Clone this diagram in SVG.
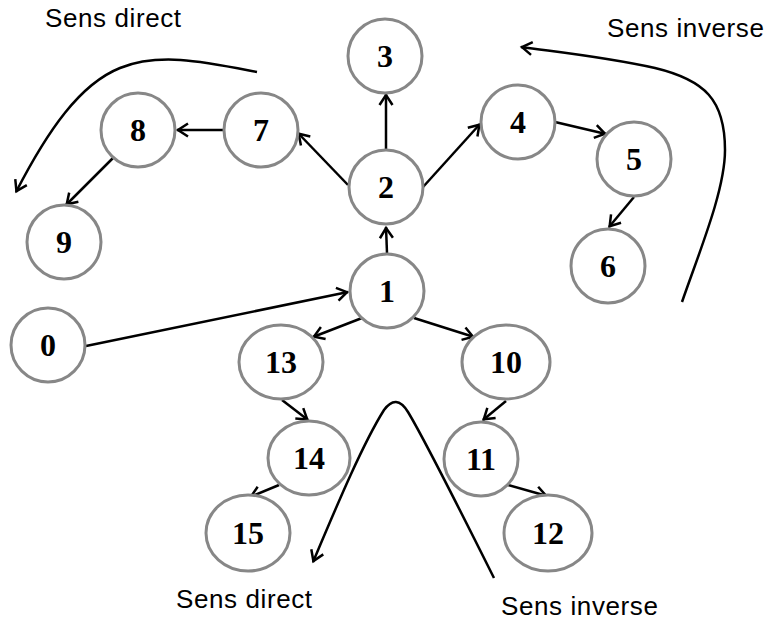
<svg xmlns="http://www.w3.org/2000/svg" width="769" height="623" viewBox="0 0 769 623">
<style>
.n ellipse{fill:#fff;stroke:#878787;stroke-width:3}
.n text{font-family:"Liberation Serif",serif;font-weight:bold;font-size:32px;text-anchor:middle;fill:#000}
.c path{fill:none;stroke:#000;stroke-width:2.5}
.lbl{font-family:"Liberation Sans",Arial,sans-serif;font-size:26px;letter-spacing:0.6px;fill:#000}
</style>
<defs>
<marker id="a" markerUnits="userSpaceOnUse" markerWidth="20" markerHeight="20" refX="1" refY="0" viewBox="-12 -10 14 20" orient="auto" overflow="visible">
<path d="M-10,-6.5 L0,0 L-10,6.5" fill="none" stroke="#000" stroke-width="2.5"/>
</marker>
</defs>
<g class="c" id="connectors">
<path d="M223,130 L177,130" marker-end="url(#a)"/>
<path d="M113,158 L66,205" marker-end="url(#a)"/>
<path d="M348,185 L298,133" marker-end="url(#a)"/>
<path d="M386,150 L386,94" marker-end="url(#a)"/>
<path d="M423,187 L480,124" marker-end="url(#a)"/>
<path d="M555,122 L606,134" marker-end="url(#a)"/>
<path d="M634,197 L609,227" marker-end="url(#a)"/>
<path d="M387,253 L386,227" marker-end="url(#a)"/>
<path d="M86,346 L348,292" marker-end="url(#a)"/>
<path d="M362,318 L313,337" marker-end="url(#a)"/>
<path d="M282,400 L308,420" marker-end="url(#a)"/>
<path d="M279,485 L250,497" marker-end="url(#a)"/>
<path d="M414,318 L474,337" marker-end="url(#a)"/>
<path d="M506,401 L483,420" marker-end="url(#a)"/>
<path d="M508,485 L547,496" marker-end="url(#a)"/>
<path d="M257,72 C205,62 160,52 120,68 C80,84 48,130 16,192" marker-end="url(#a)"/>
<path d="M682,302 C700,250 725,190 725,150 C725,100 705,80 655,68 C605,57 565,53 521,47" marker-end="url(#a)"/>
<path d="M494,578 C460,510 425,440 408,412 C400,399 392,399 384,410 C362,445 335,510 313,562" marker-end="url(#a)"/>
</g>
<g class="n" id="n0"><ellipse cx="48" cy="345" rx="37" ry="37"/><text x="48" y="356">0</text></g>
<g class="n" id="n1"><ellipse cx="387" cy="291" rx="37" ry="37"/><text x="387" y="302">1</text></g>
<g class="n" id="n2"><ellipse cx="386" cy="187" rx="37" ry="37"/><text x="386" y="198">2</text></g>
<g class="n" id="n3"><ellipse cx="385" cy="56" rx="37" ry="37"/><text x="385" y="67">3</text></g>
<g class="n" id="n4"><ellipse cx="518" cy="122" rx="37" ry="37"/><text x="518" y="133">4</text></g>
<g class="n" id="n5"><ellipse cx="634" cy="159" rx="37" ry="37"/><text x="634" y="170">5</text></g>
<g class="n" id="n6"><ellipse cx="608" cy="266" rx="37" ry="37"/><text x="608" y="277">6</text></g>
<g class="n" id="n7"><ellipse cx="261" cy="130" rx="37" ry="37"/><text x="261" y="141">7</text></g>
<g class="n" id="n8"><ellipse cx="138" cy="130" rx="37" ry="37"/><text x="138" y="141">8</text></g>
<g class="n" id="n9"><ellipse cx="64" cy="242" rx="37" ry="37"/><text x="64" y="253">9</text></g>
<g class="n" id="n10"><ellipse cx="506" cy="362" rx="44" ry="37"/><text x="506" y="373">10</text></g>
<g class="n" id="n11"><ellipse cx="481" cy="459" rx="37" ry="37"/><text x="481" y="470">11</text></g>
<g class="n" id="n12"><ellipse cx="548" cy="533" rx="44" ry="38"/><text x="548" y="544">12</text></g>
<g class="n" id="n13"><ellipse cx="281" cy="362" rx="42" ry="37"/><text x="281" y="373">13</text></g>
<g class="n" id="n14"><ellipse cx="309" cy="458" rx="41" ry="37"/><text x="309" y="469">14</text></g>
<g class="n" id="n15"><ellipse cx="248" cy="533" rx="42" ry="38"/><text x="248" y="544">15</text></g>
<text class="lbl" x="45" y="27">Sens direct</text>
<text class="lbl" x="607" y="37">Sens inverse</text>
<text class="lbl" x="176" y="608">Sens direct</text>
<text class="lbl" x="501" y="615">Sens inverse</text>
</svg>
